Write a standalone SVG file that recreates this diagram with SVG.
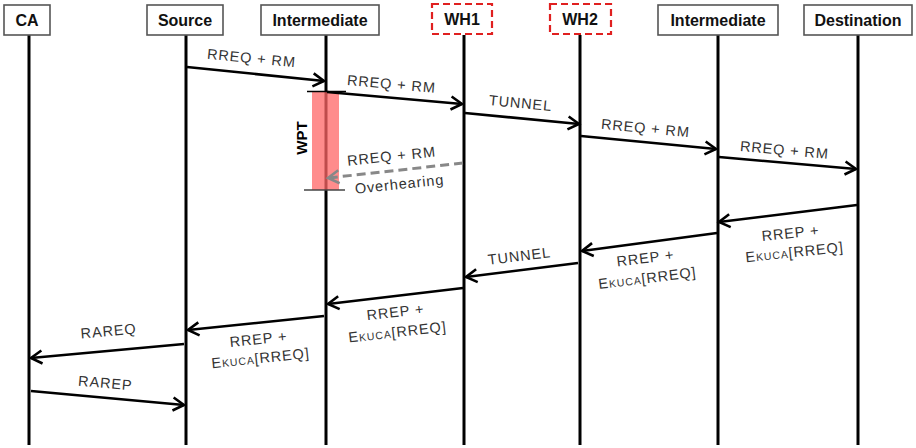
<svg xmlns="http://www.w3.org/2000/svg" width="916" height="448" viewBox="0 0 916 448">
<style>
.box{fill:#fff;stroke:#555;stroke-width:1.6}
.wh{fill:#fff;stroke:#e02020;stroke-width:2.2;stroke-dasharray:7 4}
.hd{font-family:"Liberation Sans",Arial,sans-serif;font-size:16px;font-weight:bold;fill:#111;text-anchor:middle}
.life{stroke:#000;stroke-width:3}
.msg{stroke:#000;stroke-width:2.6;fill:none;marker-end:url(#ah)}
.dash{stroke:#888;stroke-width:3;fill:none;stroke-dasharray:9 5;marker-end:url(#ahg)}
.lb{font-family:"Liberation Sans",Arial,sans-serif;font-size:14.5px;fill:#333;text-anchor:middle;letter-spacing:0.9px}
.sm{font-size:10.5px}
</style>
<defs>
<marker id="ah" markerUnits="userSpaceOnUse" markerWidth="16" markerHeight="16" viewBox="-13 -8 16 16" refX="0" refY="0" orient="auto">
<path d="M-11,-6.5 L0,0 L-11,6.5" fill="none" stroke="#000" stroke-width="2.6" stroke-linejoin="miter"/>
</marker>
<marker id="ahg" markerUnits="userSpaceOnUse" markerWidth="16" markerHeight="16" viewBox="-13 -8 16 16" refX="0" refY="0" orient="auto">
<path d="M-11,-6.5 L0,0 L-11,6.5" fill="none" stroke="#888" stroke-width="2.6"/>
</marker>
</defs>
<rect width="916" height="448" fill="#fff"/>

<g id="node-ca"><line class="life" x1="29" y1="35" x2="29" y2="445"/><rect class="box" x="4" y="5" width="46" height="30"/><text class="hd" x="27" y="26">CA</text></g>
<g id="node-source"><line class="life" x1="186" y1="35" x2="186" y2="445"/><rect class="box" x="147" y="5" width="76" height="30"/><text class="hd" x="185" y="26">Source</text></g>
<g id="node-intermediate1"><line class="life" x1="326" y1="35" x2="326" y2="445"/><rect class="box" x="261" y="5" width="118" height="30"/><text class="hd" x="320" y="26">Intermediate</text></g>
<g id="node-wh1"><line class="life" x1="464" y1="35" x2="464" y2="445"/><rect class="wh" x="432" y="4" width="60" height="30"/><text class="hd" x="462" y="25">WH1</text></g>
<g id="node-wh2"><line class="life" x1="580" y1="35" x2="580" y2="445"/><rect class="wh" x="550" y="4" width="61" height="30"/><text class="hd" x="580" y="25">WH2</text></g>
<g id="node-intermediate2"><line class="life" x1="718" y1="35" x2="718" y2="445"/><rect class="box" x="658" y="5" width="120" height="30"/><text class="hd" x="718" y="26">Intermediate</text></g>
<g id="node-destination"><line class="life" x1="858" y1="35" x2="858" y2="445"/><rect class="box" x="804" y="5" width="108" height="30"/><text class="hd" x="858" y="26">Destination</text></g>

<g id="wpt">
<rect x="312" y="92" width="27" height="98" fill="#f66" fill-opacity="0.75"/>
<line x1="307" y1="91.5" x2="346" y2="91.5" stroke="#000" stroke-width="1.6"/>
<line x1="304" y1="190" x2="345" y2="190" stroke="#444" stroke-width="1.4"/>
<text class="hd" style="font-size:15px;fill:#000" transform="translate(307,138) rotate(-90)">WPT</text>
</g>

<g id="connectors">
<line class="msg" x1="187" y1="67" x2="324" y2="81"/>
<line class="msg" x1="327" y1="92" x2="462" y2="104"/>
<line class="msg" x1="465" y1="113" x2="579" y2="124"/>
<line class="msg" x1="581" y1="136" x2="716" y2="149"/>
<line class="msg" x1="719" y1="157" x2="856" y2="169"/>
<line class="dash" x1="463" y1="163" x2="328" y2="178"/>
<line class="msg" x1="857" y1="205" x2="719" y2="222"/>
<line class="msg" x1="717" y1="233" x2="582" y2="251"/>
<line class="msg" x1="578" y1="263" x2="466" y2="277"/>
<line class="msg" x1="463" y1="288" x2="328" y2="304"/>
<line class="msg" x1="324" y1="316" x2="188" y2="330"/>
<line class="msg" x1="184" y1="344" x2="31" y2="358"/>
<line class="msg" x1="31" y1="391" x2="184" y2="405"/>
</g>

<g id="labels">
<text class="lb" transform="translate(251,63) rotate(5.5)">RREQ + RM</text>
<text class="lb" transform="translate(391,89) rotate(5)">RREQ + RM</text>
<text class="lb" transform="translate(520,108) rotate(5.5)">TUNNEL</text>
<text class="lb" transform="translate(645,133) rotate(5.4)">RREQ + RM</text>
<text class="lb" transform="translate(784,155) rotate(5)">RREQ + RM</text>
<text class="lb" transform="translate(392,161) rotate(-6)">RREQ + RM</text>
<text class="lb" transform="translate(400,189) rotate(-6)">Overhearing</text>
<text class="lb" transform="translate(791,238) rotate(-6)">RREP +</text>
<text class="lb" transform="translate(795,257) rotate(-6)">E<tspan class="sm">KUCA</tspan>[RREQ]</text>
<text class="lb" transform="translate(646,263) rotate(-7)">RREP +</text>
<text class="lb" transform="translate(648,283) rotate(-7)">E<tspan class="sm">KUCA</tspan>[RREQ]</text>
<text class="lb" transform="translate(520,261) rotate(-7)">TUNNEL</text>
<text class="lb" transform="translate(396,317) rotate(-6.5)">RREP +</text>
<text class="lb" transform="translate(398,337) rotate(-6.5)">E<tspan class="sm">KUCA</tspan>[RREQ]</text>
<text class="lb" transform="translate(259,344) rotate(-6)">RREP +</text>
<text class="lb" transform="translate(261,363) rotate(-6)">E<tspan class="sm">KUCA</tspan>[RREQ]</text>
<text class="lb" transform="translate(109,336) rotate(-5)">RAREQ</text>
<text class="lb" transform="translate(105,388) rotate(5)">RAREP</text>
</g>
</svg>
